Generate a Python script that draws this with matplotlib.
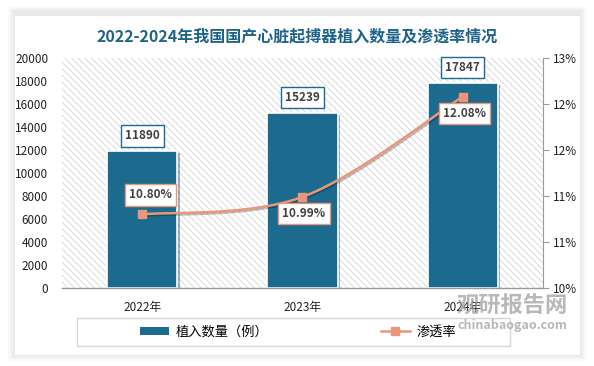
import numpy as np
import matplotlib
matplotlib.use("Agg")
import matplotlib.pyplot as plt
import matplotlib.patheffects as pe
from matplotlib.patches import Rectangle
from matplotlib.lines import Line2D
from matplotlib.ticker import FuncFormatter

plt.rcParams['font.family'] = ['Noto Sans CJK SC', 'DejaVu Sans']
plt.rcParams['hatch.linewidth'] = 0.6
plt.rcParams['hatch.color'] = '#d4d4d4'

# data
years = ["2022年", "2023年", "2024年"]
implants = [11890, 15239, 17847]
rate = [10.80, 10.99, 12.08]
rate_labels = ["10.80%", "10.99%", "12.08%"]
title = "2022-2024年我国国产心脏起搏器植入数量及渗透率情况"

bar_color = "#1d6a8f"
line_color = "#e8977a"
text_color = "#404040"

fig = plt.figure(figsize=(5.94, 3.66), dpi=100)
fig.patch.set_facecolor("white")

# card with soft shadow
for i in range(4):
    d = (i + 1) * 0.004
    fig.patches.append(Rectangle((14 / 594 - d * 0.6, 11 / 366 - d), 566 / 594 + d * 1.2, 344 / 366 + d * 1.6,
                                 transform=fig.transFigure, facecolor="#9a9a9a", alpha=0.05,
                                 edgecolor="none", zorder=-10))
fig.patches.append(Rectangle((14 / 594, 11 / 366), 566 / 594, 340 / 366, transform=fig.transFigure,
                             facecolor="white", edgecolor="#e6e6e6", lw=0.6, zorder=-9))

fig.text(0.5, 1 - 36 / 366, title, ha="center", va="center", fontsize=11.5,
         fontweight="bold", color="#1f6389")

ax = fig.add_axes([62 / 594, 1 - 288 / 366, 481 / 594, 230 / 366])
ax.set_facecolor("none")
ax.add_patch(Rectangle((0, 0), 1, 1, transform=ax.transAxes, facecolor="white",
                       hatch="\\\\\\\\\\", edgecolor="#d4d4d4", lw=0, zorder=0))

x = np.arange(len(years))
ax.bar(x, implants, width=0.44, color=bar_color, edgecolor="white", lw=1.2, zorder=2,
       path_effects=[pe.SimplePatchShadow(offset=(1.5, -1.5), alpha=0.35), pe.Normal()])
for xi, v in zip(x, implants):
    ax.annotate(f"{v}", (xi, v), xytext=(0, 11), textcoords="offset points", ha="center",
                va="center", fontsize=8.5, fontweight="bold", color=text_color, zorder=5,
                bbox=dict(boxstyle="square,pad=0.35", fc="white", ec=bar_color, lw=1))

ax.set_xlim(-0.5, 2.5)
ax.set_ylim(0, 20000)
ax.set_yticks(np.arange(0, 20001, 2000))
ax.set_xticks(x)
ax.set_xticklabels(years)
ax.tick_params(axis="y", length=0, labelsize=8.5, pad=10, labelcolor="#222222")
ax.tick_params(axis="x", length=0, labelsize=8.5, pad=9, labelcolor="#222222")
for s in ["top", "left", "right"]:
    ax.spines[s].set_visible(False)
ax.spines["bottom"].set_color("#999999")
ax.spines["bottom"].set_linewidth(1)

ax2 = ax.twinx()
ax2.set_zorder(ax.get_zorder() + 1)
ax2.patch.set_visible(False)
ax2.set_ylim(10, 12.5)
ax2.set_yticks(np.arange(10, 12.51, 0.5))
# Excel-style rounding of the tick labels (10.5 -> 11%)
ax2.yaxis.set_major_formatter(FuncFormatter(lambda v, p: f"{int(np.floor(v + 0.5 + 1e-9))}%"))
ax2.tick_params(axis="y", length=4, width=0.8, color="#999999", labelsize=8.5, labelcolor="#222222")
for s in ["top", "left", "bottom"]:
    ax2.spines[s].set_visible(False)
ax2.spines["right"].set_color("#999999")

# smoothed line (Excel-like bezier through the points)
px = np.array(x, dtype=float)
py = np.array(rate, dtype=float)
sx, sy = [], []
t = np.linspace(0, 1, 40)
for i in range(len(px) - 1):
    p0 = np.array([px[max(i - 1, 0)], py[max(i - 1, 0)]])
    p1 = np.array([px[i], py[i]])
    p2 = np.array([px[i + 1], py[i + 1]])
    p3 = np.array([px[min(i + 2, len(px) - 1)], py[min(i + 2, len(px) - 1)]])
    c1 = p1 + (p2 - p0) / 6
    c2 = p2 - (p3 - p1) / 6
    for tt in t:
        b = ((1 - tt) ** 3) * p1 + 3 * ((1 - tt) ** 2) * tt * c1 + 3 * (1 - tt) * tt ** 2 * c2 + tt ** 3 * p2
        sx.append(b[0])
        sy.append(b[1])
ax2.plot(sx, sy, color=line_color, lw=1.8, zorder=3,
         path_effects=[pe.SimpleLineShadow(offset=(1, -1), alpha=0.25), pe.Normal()])
ax2.plot(px, py, ls="none", marker="s", ms=6, color=line_color, zorder=4)

offsets = [(6, 14), (1, -12), (1, -12)]
for xi, yi, lab, off in zip(px, py, rate_labels, offsets):
    ax2.annotate(lab, (xi, yi), xytext=off, textcoords="offset points", ha="center", va="center",
                 fontsize=8.5, fontweight="bold", color=text_color, zorder=6,
                 bbox=dict(boxstyle="square,pad=0.35", fc="white", ec=line_color, lw=1))

# legend box
fig.patches.append(Rectangle((77 / 594, 1 - 346 / 366), 433 / 594, 28 / 366, transform=fig.transFigure,
                             facecolor="none", edgecolor="#d6d6d6", lw=1, zorder=1))
handles = [Rectangle((0, 0), 1, 1, facecolor=bar_color, edgecolor="none"),
           Line2D([0], [0], color=line_color, lw=1.8, marker="s", ms=6)]
fig.legend(handles, ["植入数量（例）", "渗透率"], loc="center", bbox_to_anchor=(298 / 594, 1 - 332 / 366),
           ncol=2, frameon=False, fontsize=9.5, columnspacing=8.5, handlelength=2.2, handleheight=0.5,
           handletextpad=0.5)

# watermark
fig.text(512 / 594, 1 - 306 / 366, "观研报告网", ha="center", va="center", fontsize=16,
         fontweight="bold", color="#9a9a9a", alpha=0.7, zorder=10)
fig.text(512 / 594, 1 - 325 / 366, "chinabaogao.com", ha="center", va="center", fontsize=9,
         fontweight="bold", color="#9a9a9a", alpha=0.7, zorder=10)

fig.savefig("out.png", dpi=100)
